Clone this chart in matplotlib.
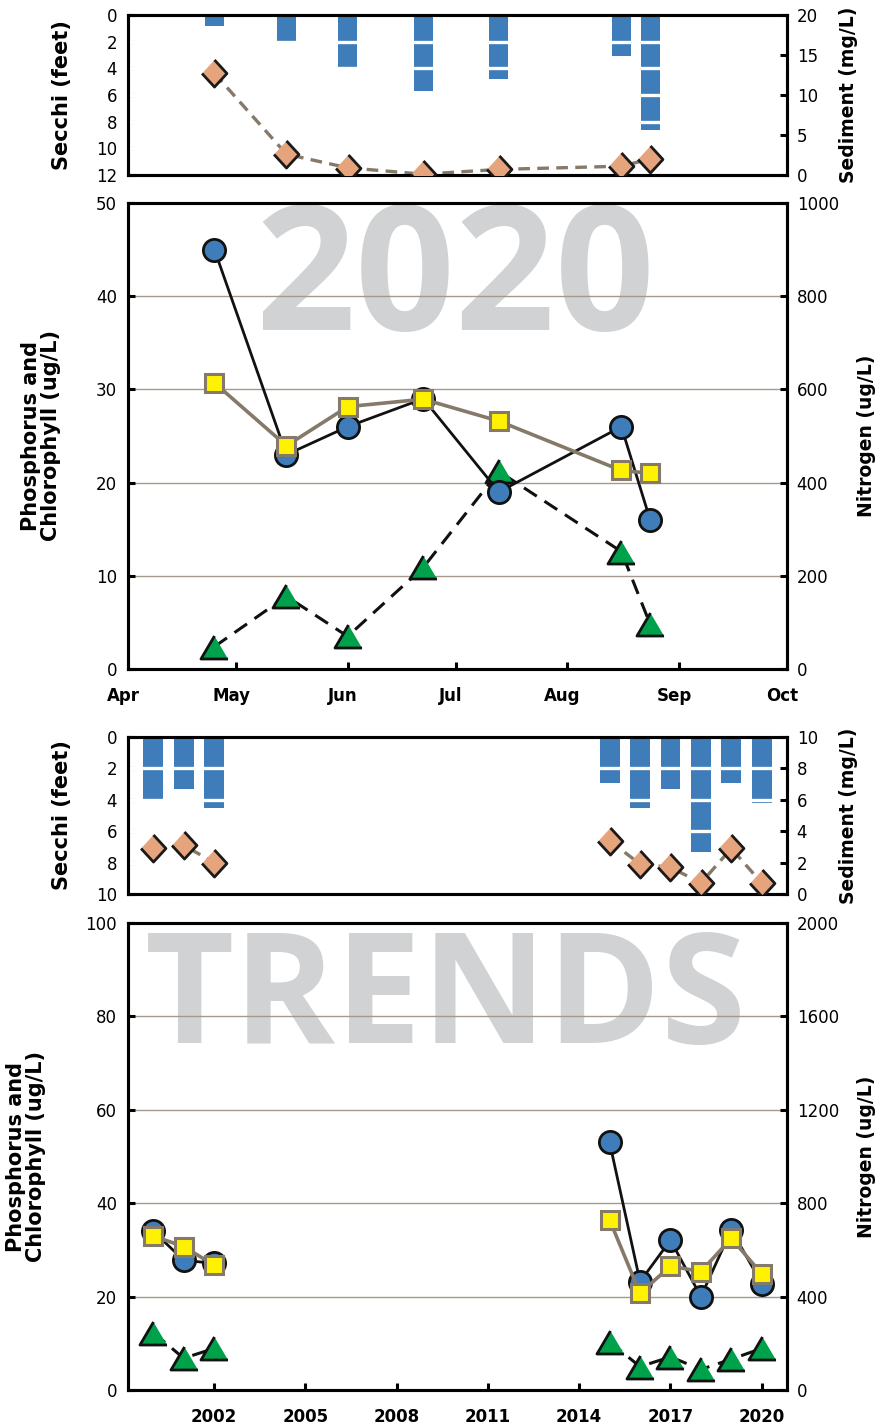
import numpy as np
import matplotlib
matplotlib.use('Agg')
import matplotlib.pyplot as plt
import matplotlib.transforms as mtransforms
from datetime import datetime

# ---- 2020 season ----
dates_2020 = ['2020-04-25', '2020-05-15', '2020-06-01', '2020-06-22',
              '2020-07-13', '2020-08-16', '2020-08-24']
secchi_2020 = [0.8, 2.0, 4.0, 5.7, 4.8, 3.1, 8.6]
sediment_2020 = [12.7, 2.6, 0.9, 0.1, 0.7, 1.1, 2.0]
phos_2020 = [45, 23, 26, 29, 19, 26, 16]
chl_2020 = [2.4, 7.8, 3.5, 10.9, 21.2, 12.6, 4.8]
nitro_2020 = [614, 479, 563, 579, 532, 426, 420]
month_ticks = ['2020-04-01', '2020-05-01', '2020-06-01', '2020-07-01',
               '2020-08-01', '2020-09-01', '2020-10-01']
month_labels = ['Apr', 'May', 'Jun', 'Jul', 'Aug', 'Sep', 'Oct']

# ---- trends ----
years = [2000, 2001, 2002, 2015, 2016, 2017, 2018, 2019, 2020]
secchi_tr = [4.0, 3.3, 4.5, 2.9, 4.5, 3.3, 7.3, 2.9, 4.2]
sediment_tr = [2.9, 3.1, 2.0, 3.4, 1.9, 1.7, 0.7, 2.9, 0.7]
phos_tr = [34.0, 27.8, 27.1, 53.0, 23.2, 32.1, 20.0, 34.3, 22.8]
chl_tr = [12.3, 6.8, 8.9, 10.3, 5.0, 7.1, 4.4, 6.6, 8.9]
nitro_tr = [660, 614, 535, 728, 414, 531, 507, 650, 497]
year_ticks = [2002, 2005, 2008, 2011, 2014, 2017, 2020]

BLUE = '#3e7cba'
GREEN = '#00a14b'
YELLOW = '#fff200'
SALMON = '#e6a47c'
TAUPE = '#857a69'
GRID = '#a39a8c'
WATER = '#d1d2d4'

tri = [(0, 0.85), (-1, -0.85), (1, -0.85)]
dia = [(0, 1), (0.92, 0), (0, -1), (-0.92, 0)]

plt.rcParams['font.family'] = ['DejaVu Sans']


def to_dates(lst):
    return [datetime.strptime(d, '%Y-%m-%d') for d in lst]


def with_gaps(x, y):
    # break the line where the years are not consecutive
    xs, ys = [x[0]], [y[0]]
    for i in range(1, len(x)):
        if x[i] - x[i - 1] > 1:
            xs.append(np.nan)
            ys.append(np.nan)
        xs.append(x[i])
        ys.append(y[i])
    return xs, ys


def frame(ax):
    for s in ax.spines.values():
        s.set_linewidth(2.2)
    ax.tick_params(direction='in', length=5, width=2.2, labelsize=12)


def left_label(ax, text, x, y=0.5):
    ax.set_ylabel(text, fontsize=15, fontweight='bold', va='center',
                  ha='center', linespacing=1.0)
    ax.yaxis.set_label_coords(x, y)


W, H = 893, 1424
fig = plt.figure(figsize=(W / 100, H / 100), dpi=100)


def px_axes(top, bottom, left=128, right=787):
    return fig.add_axes([left / W, 1 - bottom / H, (right - left) / W, (bottom - top) / H])


def secchi_panel(ax, x, secchi, sediment, width, smax, sedmax, sedstep, xs_line, ys_line):
    ax.bar(x, secchi, width=width, color=BLUE, zorder=2)
    ax.set_ylim(smax, 0)
    ax.set_yticks(np.arange(0, smax + 1, 2))
    for yv in ax.get_yticks()[1:-1]:
        ax.axhline(yv, color='white', lw=2.4, zorder=3)
    frame(ax)
    ax.tick_params(axis='x', bottom=False, labelbottom=False)
    ax.tick_params(axis='y', right=False, pad=8)
    left_label(ax, 'Secchi (feet)', -0.100)
    ax2 = ax.twinx()
    ax2.plot(xs_line, ys_line, color=TAUPE, lw=2.4, ls=(0, (3.5, 2.2)), zorder=2)
    ax2.plot(x, sediment, ls='none', marker=dia, ms=19.5, mfc=SALMON, mec='#1a1a1a', mew=2.0, zorder=3)
    ax2.set_ylim(0, sedmax)
    ax2.set_yticks(np.arange(0, sedmax + 1, sedstep))
    frame(ax2)
    ax2.tick_params(axis='y', left=False, pad=7)
    ax2.set_ylabel('Sediment (mg/L)', fontsize=13.5, fontweight='bold', va='center', ha='center')
    ax2.yaxis.set_label_coords(1.0926, 0.5)
    return ax2


def nutrient_panel(ax, xl_c, yl_c, xl_t, yl_t, xl_n, yl_n, x, phos, chl, nitro,
                   ymax, nmax, watermark, wm_x, wm_y, wm_size, lab_x):
    ax.text(wm_x, wm_y, watermark, transform=ax.transAxes, ha='center', va='baseline',
            fontsize=wm_size, fontweight='bold', family='Open Sans', color=WATER, zorder=0)
    ax.plot(xl_t, yl_t, color='#111111', lw=2.2, ls=(0, (5, 3)), zorder=2)
    ax.plot(x, chl, ls='none', marker=tri, ms=19.5, mfc=GREEN, mec='#111111', mew=2.0, zorder=3)
    ax.plot(xl_c, yl_c, color='#111111', lw=2.0, zorder=4)
    ax.plot(x, phos, ls='none', marker='o', ms=16, mfc=BLUE, mec='#111111', mew=2.0, zorder=5)
    ax.set_ylim(0, ymax)
    ax.set_yticks(np.linspace(0, ymax, 6))
    ax.yaxis.grid(True, color=GRID, lw=1.0)
    ax.set_axisbelow(True)
    frame(ax)
    ax.tick_params(axis='y', right=False, pad=8)
    ax.tick_params(axis='x', pad=13)
    left_label(ax, 'Phosphorus and\nChlorophyll (ug/L)', lab_x)
    ax2 = ax.twinx()
    ax2.plot(xl_n, yl_n, color=TAUPE, lw=2.6, zorder=2)
    ax2.plot(x, nitro, ls='none', marker='s', ms=13, mfc=YELLOW, mec=TAUPE, mew=2.2, zorder=3)
    ax2.set_ylim(0, nmax)
    ax2.set_yticks(np.linspace(0, nmax, 6))
    frame(ax2)
    ax2.tick_params(axis='y', left=False, pad=7)
    ax2.set_ylabel('Nitrogen (ug/L)', fontsize=13.5, fontweight='bold', va='center', ha='center')
    ax2.yaxis.set_label_coords(1.12, 0.5)
    return ax2


# ---- panel 1: 2020 secchi / sediment ----
d20 = to_dates(dates_2020)
mt = to_dates(month_ticks)
ax1 = px_axes(15, 175)
secchi_panel(ax1, d20, secchi_2020, sediment_2020, 5.3, 12, 20, 5, d20, sediment_2020)
ax1.set_xlim(mt[0], mt[-1])

# ---- panel 2: 2020 nutrients ----
ax2 = px_axes(203, 669)
nutrient_panel(ax2, d20, phos_2020, d20, chl_2020, d20, nitro_2020,
               d20, phos_2020, chl_2020, nitro_2020,
               50, 1000, '2020', 0.496, 0.7275, 126, -0.132)
ax2.set_xlim(mt[0], mt[-1])
ax2.set_xticks(mt)
ax2.set_xticklabels(month_labels, fontsize=12, fontweight='bold')
shift = mtransforms.ScaledTranslation(-5 / 100, 0, fig.dpi_scale_trans)
for lbl in ax2.get_xticklabels():
    lbl.set_transform(lbl.get_transform() + shift)

# ---- panel 3: trends secchi / sediment ----
ax3 = px_axes(737, 894)
xs, ys = with_gaps(years, sediment_tr)
secchi_panel(ax3, years, secchi_tr, sediment_tr, 0.65, 10, 10, 2, xs, ys)
ax3.set_xlim(1999.17, 2020.83)

# ---- panel 4: trends nutrients ----
ax4 = px_axes(923, 1390)
xc, yc = with_gaps(years, phos_tr)
xt, yt = with_gaps(years, chl_tr)
xn, yn = with_gaps(years, nitro_tr)
nutrient_panel(ax4, xc, yc, xt, yt, xn, yn, years, phos_tr, chl_tr, nitro_tr,
               100, 2000, 'TRENDS', 0.4826, 0.743, 111, -0.155)
ax4.set_xlim(1999.17, 2020.83)
ax4.set_xticks(year_ticks)
ax4.set_xticklabels([str(y) for y in year_ticks], fontsize=12, fontweight='bold')

fig.savefig('out.png', dpi=100)
